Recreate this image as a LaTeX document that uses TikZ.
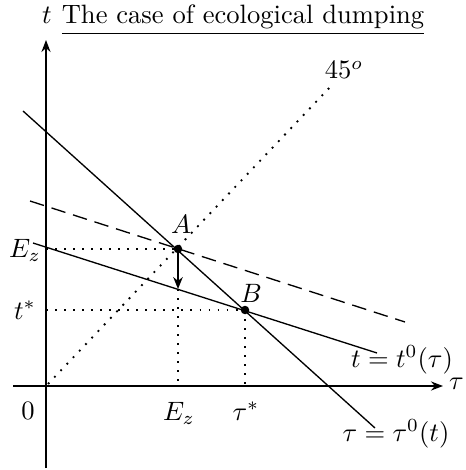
\documentclass[tikz,border=0pt]{standalone}
\usetikzlibrary{arrows.meta}
\begin{document}
\begin{tikzpicture}[x=0.3765pt,y=-0.3765pt,
  axis/.style={line width=0.7pt,-{Stealth[length=4.5pt,width=3.4pt]}},
  curve/.style={line width=0.5pt},
  guide/.style={line width=0.7pt,dash pattern=on 0.7pt off 2.7pt},
  dashline/.style={line width=0.5pt,dash pattern=on 5.5pt off 3pt},
  dot/.style={circle,fill=black,inner sep=0pt,minimum size=3.2pt},
  lbl/.style={inner sep=1pt}]
\useasboundingbox (0,0) rectangle (465,470);
% axes
\coordinate (O) at (46,386);
\coordinate (yb) at (46,468);
\coordinate (yt) at (46,40);
\coordinate (xl) at (13,386);
\coordinate (xr) at (443,386);
\draw[axis] (yb) -- (yt);
\draw[axis] (xl) -- (xr);
\node[lbl,anchor=base] (tlab) at (47,24) {$t$};
\node[lbl,anchor=west] (taulab) at (446,384) {$\tau$};
\node[lbl] (zero) at (28,411) {$0$};
\node[lbl,anchor=base] (title) at (243,24) {\underline{The case of ecological dumping}};
% points
\coordinate (A) at (178,249);
\coordinate (B) at (245,310);
\coordinate (C) at (178,289);
\coordinate (Ex) at (178,386);
\coordinate (Tx) at (245,386);
\coordinate (Ey) at (46,249);
\coordinate (Ty) at (46,310);
% 45 degree line
\coordinate (d1) at (48,384);
\coordinate (d2) at (333,84);
\draw[guide] (d1) -- (d2);
\node[lbl] (deg) at (344,70) {$45^o$};
% tau0 line
\coordinate (p1) at (23,111);
\coordinate (p2) at (375,428);
\draw[curve] (p1) -- (p2);
% t0 line
\coordinate (q1) at (33,243);
\coordinate (q2) at (377,353);
\draw[curve] (q1) -- (q2);
% dashed line
\coordinate (r1) at (30,201);
\coordinate (r2) at (405,322);
\draw[dashline] (r1) -- (r2);
% guides
\draw[guide] (Ey) -- (A);
\draw[guide] (Ty) -- (B);
\draw[guide] (C) -- (Ex);
\draw[guide] (B) -- (Tx);
% arrow
\draw[line width=0.6pt,-{Stealth[length=4.5pt,width=3.6pt]}] (A) -- (C);
\node[dot] (Adot) at (A) {};
\node[dot] (Bdot) at (B) {};
% labels
\node[lbl] (Alab) at (181,224) {$A$};
\node[lbl] (Blab) at (251,293) {$B$};
\node[lbl] (Ezl) at (25,250) {$E_z$};
\node[lbl] (tsl) at (25,310) {$t^*$};
\node[lbl] (Ezx) at (179,413) {$E_z$};
\node[lbl] (tsx) at (246,411) {$\tau^*$};
\node[lbl] (t0lab) at (402,360) {$t=t^0(\tau)$};
\node[lbl] (tau0lab) at (396,434) {$\tau=\tau^0(t)$};
\end{tikzpicture}
\end{document}
